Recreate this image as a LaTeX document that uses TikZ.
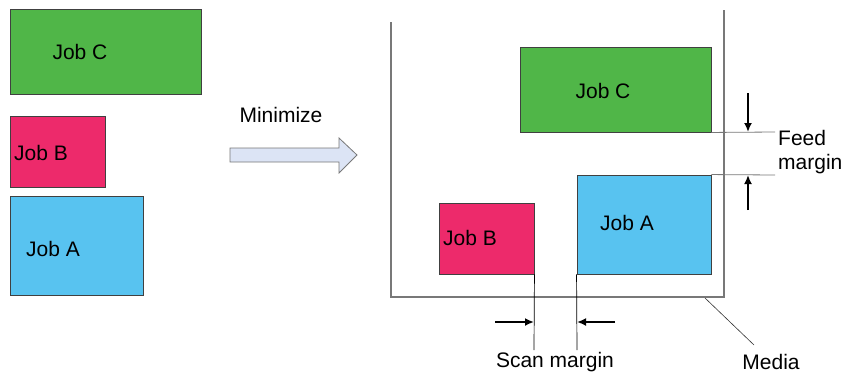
\documentclass[tikz,border=0pt]{standalone}
\usepackage{fontspec}
\setmainfont{Liberation Sans}
\usetikzlibrary{arrows.meta}
\definecolor{jobgreen}{RGB}{80,182,72}
\definecolor{jobpink}{RGB}{237,42,107}
\definecolor{jobblue}{RGB}{88,195,240}
\definecolor{arrowfill}{RGB}{220,228,245}
\definecolor{mediagray}{RGB}{120,120,120}
\tikzset{
    jobbox/.style={draw=black!75,line width=0.9pt,inner sep=0pt},
    joblabel/.style={font=\fontsize{21}{24}\selectfont,inner sep=0pt},
    marginarrow/.style={-{Latex[length=9pt,width=8pt]},line width=1.8pt},
}
\begin{document}
\begin{tikzpicture}[x=1pt,y=-1pt,line cap=butt,line join=miter]
        \useasboundingbox (0,0) rectangle (844,376);

        % jobs before
        \node[jobbox,fill=jobgreen,minimum width=191pt,minimum height=85pt]
            (cBefore) at (105.5,51.5) {};
        \node[jobbox,fill=jobpink,minimum width=95pt,minimum height=71pt]
            (bBefore) at (57.5,151.5) {};
        \node[jobbox,fill=jobblue,minimum width=133pt,minimum height=99pt]
            (aBefore) at (76.5,245.5) {};
        \node[joblabel] (cBeforeText) at (80,52) {Job C};
        \node[joblabel] (bBeforeText) at (41,153) {Job B};
        \node[joblabel] (aBeforeText) at (53,249) {Job A};

        % block arrow
        \fill[arrowfill,draw=mediagray,line width=0.8pt]
            (230,148) -- (339,148) -- (339,138) -- (357,155) -- (339,173)
            -- (339,162) -- (230,162) -- cycle;
        \node[joblabel] (minimize) at (281,115) {Minimize};

        % media
        \draw[mediagray,line width=1.1pt]
            (391,22) -- (391,297) -- (724,297) -- (724,10);

        % jobs after
        \node[jobbox,fill=jobgreen,minimum width=191pt,minimum height=85pt]
            (cAfter) at (615.5,89.5) {};
        \node[jobbox,fill=jobblue,minimum width=134pt,minimum height=99pt]
            (aAfter) at (644,224.5) {};
        \node[jobbox,fill=jobpink,minimum width=95pt,minimum height=71pt]
            (bAfter) at (486.5,238.5) {};
        \node[joblabel] (cAfterText) at (603,91) {Job C};
        \node[joblabel] (aAfterText) at (627,223) {Job A};
        \node[joblabel] (bAfterText) at (470,238) {Job B};

        % feed margin
        \coordinate (feedTop) at (775,132);
        \coordinate (feedBottom) at (775,175);
        \coordinate (feedDownStart) at (748,93);
        \coordinate (feedUpStart) at (748,210);
        \draw[mediagray,line width=0.8pt] (cAfter.south east) -- (feedTop);
        \draw[mediagray,line width=0.8pt] (aAfter.north east) -- (feedBottom);
        \draw[marginarrow] (feedDownStart) -- (feedDownStart |- feedTop);
        \draw[marginarrow] (feedUpStart) -- (feedUpStart |- feedBottom);
        \node[joblabel,anchor=west,align=left] (feedText) at (778,152)
            {Feed\\margin};

        % scan margin
        \coordinate (scanLeft) at (534,350);
        \coordinate (scanRight) at (577,350);
        \coordinate (scanLeftStart) at (495,322);
        \coordinate (scanRightStart) at (615,322);
        \draw[line width=0.7pt] (bAfter.south east) -- (scanLeft);
        \draw[line width=0.7pt] (aAfter.south west) -- (scanRight);
        \draw[marginarrow] (scanLeftStart) -- (scanLeftStart -| scanLeft);
        \draw[marginarrow] (scanRightStart) -- (scanRightStart -| scanRight);
        \node[joblabel] (scanText) at (555,362) {Scan margin};

        % media leader
        \node[joblabel] (mediaText) at (771,362) {Media};
        \coordinate (mediaPoint) at (705,298);
        \draw[black!80,line width=0.6pt] (mediaPoint) -- (754,345);
    \end{tikzpicture}
\end{document}
